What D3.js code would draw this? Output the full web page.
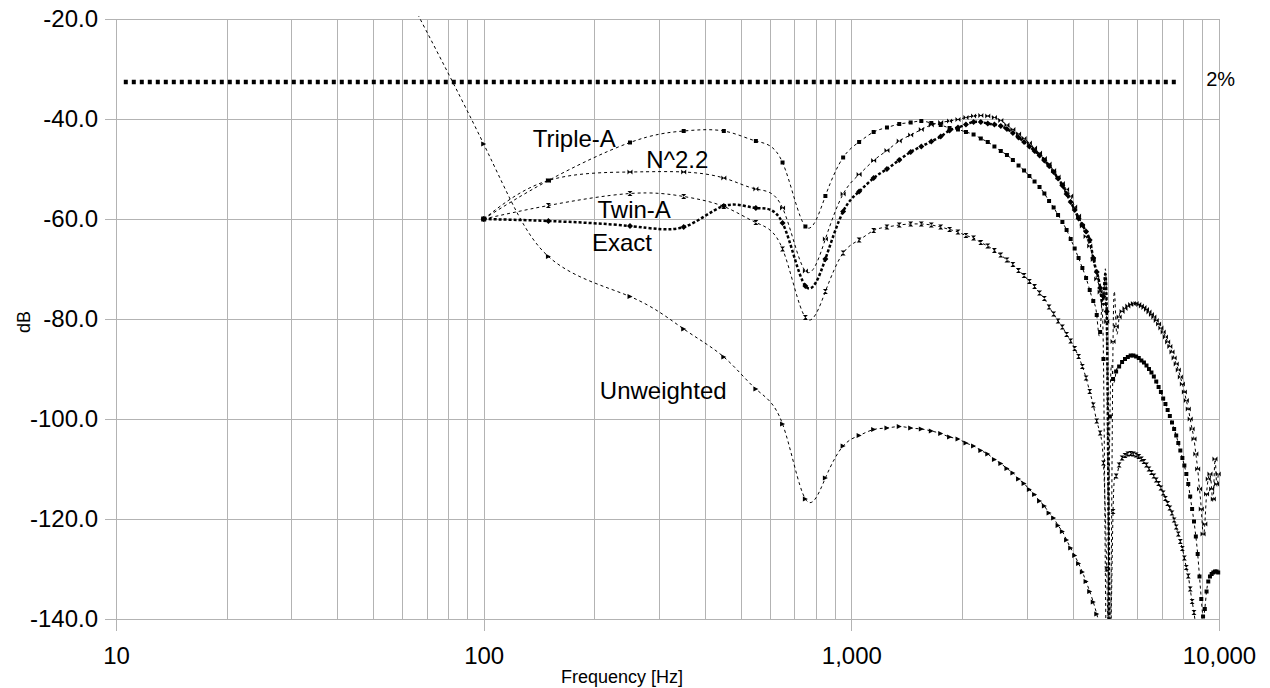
<!DOCTYPE html>
<html>
<head>
<meta charset="utf-8">
<script src="https://cdn.jsdelivr.net/npm/d3@7"></script>
<style>
  body { margin: 0; background: #fff; }
  svg { display: block; font-family: "Liberation Sans", Arial, sans-serif; }
</style>
</head>
<body>
<svg id="chart" width="1270" height="688"></svg>
<script>
'use strict';

// frequency points [Hz] shared by all series (index i -> freqs[i])
var freqs = [
  50, 100, 150, 250, 350, 450, 550, 650, 750, 850,
  950, 1050, 1150, 1250, 1350, 1450, 1550, 1650, 1750, 1850,
  1950, 2050, 2150, 2250, 2350, 2450, 2550, 2650, 2750, 2850,
  2950, 3050, 3150, 3250, 3350, 3450, 3550, 3650, 3750, 3850,
  3950, 4050, 4150, 4250, 4350, 4450, 4550, 4650, 4750, 4850,
  4950, 5050, 5150, 5250, 5350, 5450, 5550, 5650, 5750, 5850,
  5950, 6050, 6150, 6250, 6350, 6450, 6550, 6650, 6750, 6850,
  6950, 7050, 7150, 7250, 7350, 7450, 7550, 7650, 7750, 7850,
  7950, 8050, 8150, 8250, 8350, 8450, 8550, 8650, 8750, 8850,
  8950, 9050, 9150, 9250, 9350, 9450, 9550, 9650, 9750, 9850,
  9950
];

var unweighted = [
  -2, -45, -67.5, -75.5, -82, -87.6, -94, -101, -116, -111.8,
  -105.4, -103.3, -102.1, -101.8, -101.5, -101.8, -102, -102.4, -102.9, -103.6,
  -104, -104.8, -105.4, -106.3, -107, -108.1, -108.9, -109.9, -110.8, -112,
  -112.9, -114.1, -115.1, -116.4, -117.4, -118.8, -119.8, -121.3, -122.5, -124.2,
  -125.8, -127.3, -128.9, -130.6, -132.5, -134.5, -136.6, -139, -142, -146
];

var tripleA = [
  null, -60, -52.3, -44.7, -42.4, -42.4, -44.4, -48.7, -61.5, -55.4,
  -47.7, -44.6, -42.6, -41.7, -41, -40.7, -40.4, -40.8, -41.2, -41.8,
  -42.1, -42.6, -43.1, -43.9, -44.6, -45.5, -46.4, -47.2, -48.2, -49.3,
  -50.3, -51.4, -52.5, -53.6, -54.9, -56.4, -57.7, -59.2, -60.6, -62.2,
  -64, -65.9, -67.8, -69.8, -71.8, -74.2, -76.4, -79.2, -82.6, -88,
  -150, -99.5, -92, -90.5, -89.5, -88.6, -88, -87.6, -87.3, -87.3,
  -87.5, -87.8, -88.3, -88.7, -89.3, -90, -90.7, -91.5, -92.5, -93.6,
  -94.6, -95.9, -97, -98.2, -99.4, -100.7, -102, -103.3, -104.8, -106.3,
  -107.8, -109.3, -111, -113, -115.5, -118, -120.5, -123.5, -127, -131.5,
  -136, -139.5, -138, -134.5, -132.5, -131.5, -131, -130.7, -130.5, -130.5,
  -130.7
];

var n22 = [
  null, -60, -52.3, -50.6, -50.6, -51.8, -54, -57.8, -70.4, -64,
  -55, -51.1, -48.3, -46.3, -44.4, -43.2, -42.1, -41.2, -40.7, -40.4,
  -40.1, -39.7, -39.4, -39.3, -39.4, -39.7, -40.3, -41.2, -42.1, -43,
  -43.9, -44.8, -45.8, -46.8, -47.9, -49, -50.3, -51.6, -52.9, -54.1,
  -55.4, -57.6, -59.4, -61.4, -63.5, -65.4, -68.1, -72, -74.6, -77,
  -80.5, -150, -84.5, -81.5, -79.6, -78.5, -77.9, -77.4, -77.1, -76.9,
  -76.9, -77.1, -77.4, -77.7, -78.1, -78.6, -79.1, -79.6, -80.3, -81,
  -81.8, -82.6, -83.6, -84.6, -85.5, -86.6, -87.8, -89, -90.2, -91.6,
  -93, -94.6, -96.3, -98, -100, -102, -104, -107, -110, -114,
  -118, -123, -121, -115, -112, -111, -114, -116, -108, -113,
  -111
];

var twinA = [
  null, -60, -57.3, -54.9, -55.5, -57.5, -60.7, -66, -79.7, -74.5,
  -66.8, -64.2, -62.3, -61.6, -61.2, -61, -61, -61.2, -61.6, -62.1,
  -62.6, -63.3, -63.8, -64.7, -65.4, -66.3, -67.2, -68.2, -69.1, -70.3,
  -71.3, -72.5, -73.5, -74.8, -75.9, -77.6, -79, -80.4, -81.6, -83.1,
  -84.4, -85.9, -87.5, -89.5, -91.8, -94.5, -97.2, -100.4, -102.8, -108.8,
  -130, -150, -118.5, -111.4, -109.2, -107.8, -107.3, -107, -106.9, -107,
  -107.2, -107.5, -108, -108.5, -109.2, -110, -110.7, -111.4, -112.2, -112.9,
  -113.8, -114.8, -115.9, -116.9, -117.8, -118.8, -120.2, -121.6, -123, -124.5,
  -125.9, -127.8, -129.7, -131.4, -134, -136.5, -138.7, -142, -147
];

var exact = [
  null, -60, -60.4, -61.4, -61.6, -57.4, -57.8, -60.8, -73.4, -68,
  -58.5, -54.5, -51.8, -50, -48.2, -46.6, -45.5, -44.5, -43.5, -42.3,
  -41.7, -41.1, -40.6, -40.6, -40.9, -41.1, -41.4, -42, -42.8, -43.7,
  -44.6, -45.5, -46.4, -47.3, -48.3, -49.4, -50.6, -51.9, -53.3, -55,
  -56.6, -58.2, -59.9, -61.2, -62.5, -64.2, -67.8, -70.6, -73.8, -75.5,
  -78.5, -160
];

// 2% reference line, [Hz] and [dB]
var twoPctFreqs = [10.5, 7700];
var twoPctValues = [-32.6, -32.6];

var xTicks = [10, 100, 1000, 10000];
var yTicks = [-140, -120, -100, -80, -60, -40, -20];

var labels = [
  {text: 'Triple-A', f: 136, db: -45.5, size: 24},
  {text: 'N^2.2', f: 277, db: -49.8, size: 24},
  {text: 'Twin-A', f: 204, db: -59.8, size: 24},
  {text: 'Exact', f: 197, db: -66.4, size: 24},
  {text: 'Unweighted', f: 207, db: -96, size: 24},
  {text: '2%', f: 9230, db: -33.4, size: 20}
];

var svg = d3.select('#chart');
var plotLeft = 116, plotRight = 1219, plotTop = 19, plotBottom = 619;

var x = d3.scaleLog().domain([10, 10000]).range([plotLeft, plotRight]);
var y = d3.scaleLinear().domain([-140, -20]).range([plotBottom, plotTop]);
var grid = '#b3b3b3';

function px(v) { return Math.round(v) + 0.5; }

// grid, major lines run out a little as tick marks
svg.append('g').selectAll('line')
  .data(x.ticks())
  .enter().append('line')
  .attr('x1', function (d) { return px(x(d)); })
  .attr('x2', function (d) { return px(x(d)); })
  .attr('y1', plotTop)
  .attr('y2', function (d) { return xTicks.indexOf(d) >= 0 ? plotBottom + 12 : plotBottom; })
  .attr('stroke', grid);

svg.append('g').selectAll('line')
  .data(yTicks)
  .enter().append('line')
  .attr('x1', plotLeft - 11).attr('x2', plotRight)
  .attr('y1', function (d) { return px(y(d)); })
  .attr('y2', function (d) { return px(y(d)); })
  .attr('stroke', grid);

// tick labels
var yAxis = svg.append('g')
  .attr('transform', 'translate(' + plotLeft + ',0)')
  .call(d3.axisLeft(y).tickValues(yTicks).tickSize(0).tickPadding(18)
    .tickFormat(function (d) { return d.toFixed(1); }));

var xAxis = svg.append('g')
  .attr('transform', 'translate(0,' + plotBottom + ')')
  .call(d3.axisBottom(x).tickValues(xTicks).tickSize(0).tickPadding(28)
    .tickFormat(d3.format(',')));

[yAxis, xAxis].forEach(function (g) {
  g.select('.domain').remove();
  g.selectAll('line').remove();
  g.selectAll('text').attr('font-size', 24).attr('fill', '#000');
  g.attr('font-family', null).attr('font-size', null);
});

svg.append('text')
  .attr('transform', 'translate(30,322) rotate(-90)')
  .attr('text-anchor', 'middle')
  .attr('font-size', 18)
  .text('dB');

svg.append('text')
  .attr('x', 622).attr('y', 683)
  .attr('text-anchor', 'middle')
  .attr('font-size', 18)
  .text('Frequency [Hz]');

// series
svg.append('clipPath').attr('id', 'plot')
  .append('rect')
  .attr('x', plotLeft - 3).attr('y', plotTop - 3)
  .attr('width', plotRight - plotLeft + 6).attr('height', plotBottom - plotTop + 3);

var h = 2.5;
var markers = {
  square: 'M-2,-2H2V2H-2Z',
  diamond: 'M0,-3L3,0L0,3L-3,0Z',
  arrow: 'M-2.5,-2.5L2.5,0L-2.5,2.5Z',
  bowtie: 'M-' + h + ',-' + h + 'L' + h + ',' + h + 'L' + h + ',-' + h + 'L-' + h + ',' + h + 'Z',
  hourglass: 'M-' + h + ',-' + h + 'L' + h + ',-' + h + 'L-' + h + ',' + h + 'L' + h + ',' + h + 'Z'
};

var series = [
  {values: unweighted, marker: 'arrow', width: 1, dash: '3,3'},
  {values: twinA, marker: 'hourglass', width: 1, dash: '3,3'},
  {values: n22, marker: 'bowtie', width: 1, dash: '3,3'},
  {values: tripleA, marker: 'square', width: 1, dash: '3,3'},
  {values: exact, marker: 'diamond', width: 2.5, dash: '3,2'}
];

var plot = svg.append('g').attr('clip-path', 'url(#plot)');

var line = d3.line()
  .defined(function (d) { return d.v !== null; })
  .x(function (d) { return x(d.f); })
  .y(function (d) { return y(d.v); })
  .curve(d3.curveNatural);

series.forEach(function (s) {
  var pts = s.values.map(function (v, i) { return {f: freqs[i], v: v}; });
  plot.append('path')
    .attr('d', line(pts))
    .attr('fill', 'none')
    .attr('stroke', '#000')
    .attr('stroke-width', s.width)
    .attr('stroke-dasharray', s.dash);

  plot.append('g').selectAll('path')
    .data(pts.filter(function (d) { return d.v !== null; }))
    .enter().append('path')
    .attr('d', markers[s.marker])
    .attr('transform', function (d) { return 'translate(' + x(d.f) + ',' + y(d.v) + ')'; })
    .attr('fill', '#000');
});

var twoPct = twoPctFreqs.map(function (f, i) { return {f: f, v: twoPctValues[i]}; });
plot.append('path')
  .attr('d', d3.line().x(function (d) { return x(d.f); }).y(function (d) { return y(d.v); })(twoPct))
  .attr('fill', 'none')
  .attr('stroke', '#000')
  .attr('stroke-width', 4.5)
  .attr('stroke-dasharray', '4,4');

// curve labels
svg.append('g').selectAll('text')
  .data(labels)
  .enter().append('text')
  .attr('x', function (d) { return x(d.f); })
  .attr('y', function (d) { return y(d.db); })
  .attr('font-size', function (d) { return d.size; })
  .text(function (d) { return d.text; });
</script>
</body>
</html>
